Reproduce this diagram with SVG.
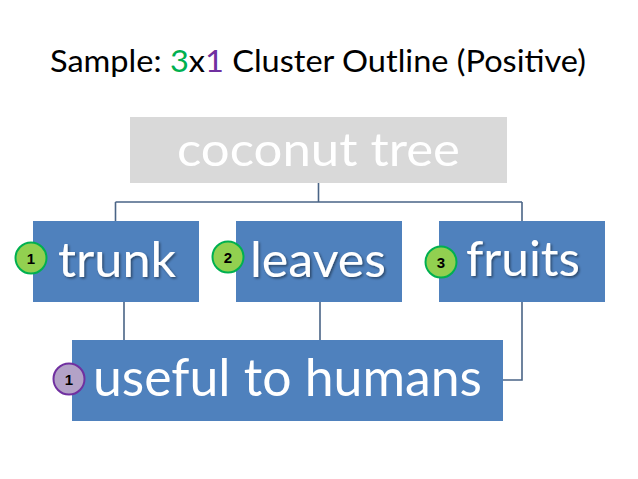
<svg xmlns="http://www.w3.org/2000/svg" width="638" height="479" viewBox="0 0 638 479">
<defs>
<style>
.box{fill:#4f81bd;}
.top{fill:#d9d9d9;}
.lbl{font-family:Lato,"Open Sans","Liberation Sans",sans-serif;fill:#ffffff;}
.sh{filter:url(#ds);}
.con{fill:none;stroke:#4a6486;stroke-width:1.6;}
.bg{fill:#92d050;stroke:#00b050;stroke-width:2;}
.bp{fill:#b3a2c7;stroke:#7030a0;stroke-width:2;}
.num{font-family:"Liberation Sans",Arial,sans-serif;font-weight:bold;font-size:15px;fill:#000;text-anchor:middle;}
.title{font-family:Lato,"Open Sans","Liberation Sans",sans-serif;font-size:31px;fill:#000;}
</style>
<filter id="ds" x="-10%" y="-10%" width="130%" height="140%">
<feDropShadow dx="1.5" dy="1.5" stdDeviation="1" flood-color="#000" flood-opacity="0.45"/>
</filter>
</defs>
<rect width="638" height="479" fill="#ffffff"/>
<text class="title" x="50" y="72" textLength="536" lengthAdjust="spacingAndGlyphs">Sample: <tspan fill="#00b050">3</tspan>x<tspan fill="#7030a0">1</tspan> Cluster Outline (Positive)</text>
<g id="connectors">
<path class="con" d="M318.5,183 V202 M115.5,202 H522 M115.5,202 V221 M522,202 V221"/>
<path class="con" d="M124,302 V340 M320,302 V340 M522,302 V380 H503"/>
</g>
<g id="coconut">
<rect class="top" x="130" y="117" width="377" height="66"/>
<text class="lbl" x="177" y="166" font-size="46" textLength="283" lengthAdjust="spacingAndGlyphs">coconut tree</text>
</g>
<g id="trunk">
<rect class="box" x="33" y="221" width="166" height="81"/>
<text class="lbl sh" x="58" y="277" font-size="48" textLength="118" lengthAdjust="spacingAndGlyphs">trunk</text>
<circle class="bg" cx="31" cy="258" r="15.5"/>
<text class="num" x="31" y="263.5">1</text>
</g>
<g id="leaves">
<rect class="box" x="236" y="221" width="166" height="81"/>
<text class="lbl sh" x="250" y="277" font-size="48" textLength="136" lengthAdjust="spacingAndGlyphs">leaves</text>
<circle class="bg" cx="228" cy="257" r="15.5"/>
<text class="num" x="228" y="262.5">2</text>
</g>
<g id="fruits">
<rect class="box" x="439" y="221" width="166" height="81"/>
<text class="lbl sh" x="466" y="276" font-size="48" textLength="114" lengthAdjust="spacingAndGlyphs">fruits</text>
<circle class="bg" cx="441" cy="262" r="15.5"/>
<text class="num" x="441" y="267.5">3</text>
</g>
<g id="useful">
<rect class="box" x="72" y="340" width="431" height="81"/>
<text class="lbl" x="93" y="396" font-size="52" textLength="389" lengthAdjust="spacingAndGlyphs">useful to humans</text>
<circle class="bp" cx="69" cy="379" r="15.5"/>
<text class="num" x="69" y="384.5">1</text>
</g>
</svg>
